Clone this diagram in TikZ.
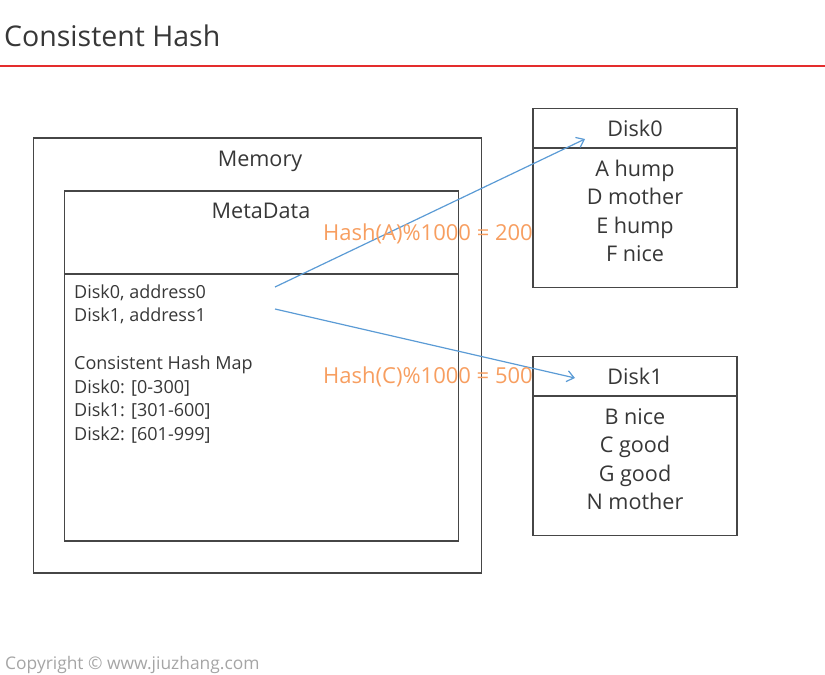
\documentclass[tikz,border=0pt]{standalone}
\usepackage{fontspec}
\setmainfont{Open Sans}
\usetikzlibrary{arrows.meta}

\definecolor{txt}{RGB}{55,55,55}
\definecolor{frame}{RGB}{70,70,70}
\definecolor{redline}{RGB}{228,45,45}
\definecolor{hashblue}{RGB}{91,155,213}
\definecolor{hashorange}{RGB}{247,158,96}
\definecolor{copygray}{RGB}{165,165,165}

\tikzset{
	box/.style={shape=rectangle,draw=frame,line width=1.2pt,inner sep=0pt},
	meta/.style={anchor=base west,inner sep=0pt,text=txt,font=\fontsize{18}{20}\selectfont},
	item/.style={anchor=base,inner sep=0pt,text=txt,font=\fontsize{21.6}{24}\selectfont},
	hashtxt/.style={anchor=base west,inner sep=0pt,text=hashorange,font=\fontsize{22}{24}\selectfont},
	hasharrow/.style={draw=hashblue,line width=1.2pt,-{Straight Barb[length=7pt,width=11pt,line width=1.2pt]}}
}

\begin{document}
\begin{tikzpicture}[x=1pt,y=-1pt]
	\useasboundingbox (0,0) rectangle (825,675);

	\node[anchor=base west,inner sep=0pt,text=txt,font=\fontsize{28.5}{32}\selectfont] (title) at (4, 46) {Consistent Hash};
	\coordinate (rl) at (0, 66);
	\coordinate (rr) at (825, 66);
	\draw[redline,line width=1.3pt] (rl) -- (rr);

	\node[box,minimum width=448pt,minimum height=435pt] (memory) at (257.5, 355.5) {};
	\node[item] (memtitle) at (260, 166) {Memory};
	\node[box,minimum width=394pt,minimum height=350pt] (metadata) at (261.5, 366) {};
	\node[item] (metatitle) at (261, 218) {MetaData};
	\draw[frame,line width=1.2pt] (metadata.west |- 0,274) -- (metadata.east |- 0,274);

	\node[meta] (m1) at (74, 298) {Disk0, address0};
	\node[meta] (m2) at (74, 321.5) {Disk1, address1};
	\node[meta] (m3) at (74, 369.5) {Consistent Hash Map};
	\node[meta] (m4) at (74, 393) {Disk0: [0-300]};
	\node[meta] (m5) at (74, 416.5) {Disk1: [301-600]};
	\node[meta] (m6) at (74, 440) {Disk2: [601-999]};

	\node[box,minimum width=204pt,minimum height=179pt] (disk0) at (635, 198) {};
	\draw[frame,line width=1.2pt] (disk0.west |- 0,148) -- (disk0.east |- 0,148);
	\node[item] (d0) at (635, 136) {Disk0};
	\node[item] (d0a) at (635, 176) {A hump};
	\node[item] (d0b) at (635, 204.5) {D mother};
	\node[item] (d0c) at (635, 233) {E hump};
	\node[item] (d0d) at (635, 261.5) {F nice};

	\node[box,minimum width=204pt,minimum height=179pt] (disk1) at (635, 446) {};
	\draw[frame,line width=1.2pt] (disk1.west |- 0,396) -- (disk1.east |- 0,396);
	\node[item] (d1) at (635, 384) {Disk1};
	\node[item] (d1a) at (635, 424) {B nice};
	\node[item] (d1b) at (635, 452.5) {C good};
	\node[item] (d1c) at (635, 481) {G good};
	\node[item] (d1d) at (635, 509.5) {N mother};

	\coordinate (fromA) at (275, 287);
	\coordinate (toA) at (585, 139);
	\coordinate (fromC) at (275, 309);
	\coordinate (toC) at (575, 378);
	\draw[hasharrow] (fromA) -- (toA);
	\draw[hasharrow] (fromC) -- (toC);

	\node[hashtxt] (hashA) at (323, 240) {Hash(A)\%1000 = 200};
	\node[hashtxt] (hashC) at (323, 383) {Hash(C)\%1000 = 500};

	\node[anchor=base west,inner sep=0pt,text=copygray,font=\fontsize{17.4}{19}\selectfont] (copy) at (5, 669) {Copyright \textcopyright{} www.jiuzhang.com};
\end{tikzpicture}
\end{document}
